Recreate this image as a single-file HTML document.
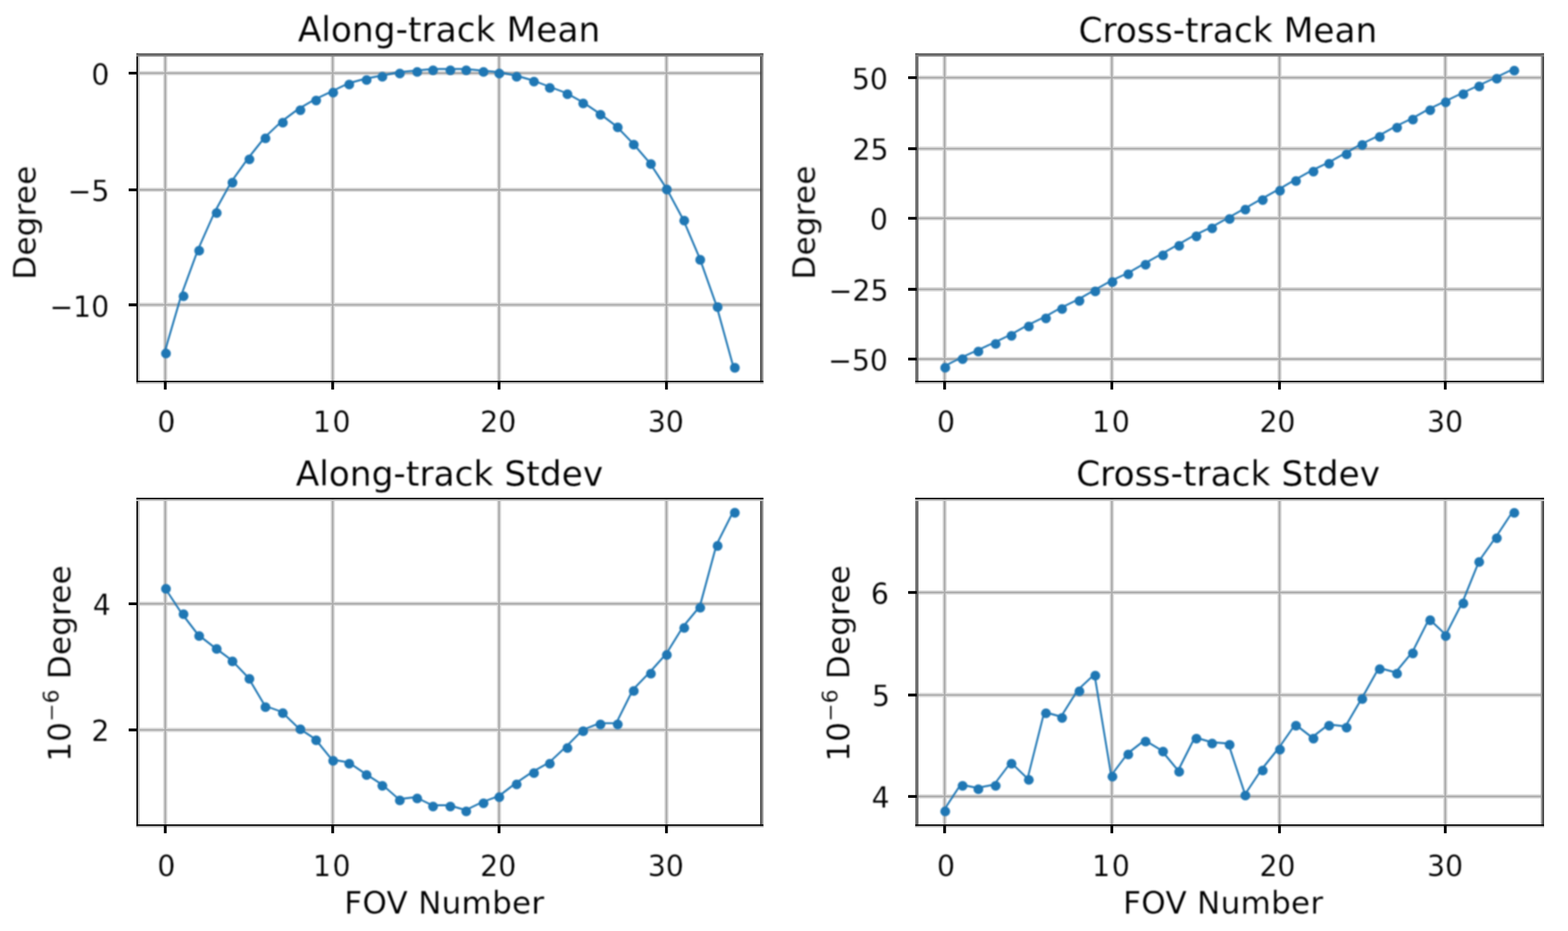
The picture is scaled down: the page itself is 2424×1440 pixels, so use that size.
<!DOCTYPE html>
<html lang="en"><head><meta charset="utf-8"><title>FOV geolocation statistics</title>
<style>html,body{margin:0;padding:0;background:#fff}body{width:2424px;height:1440px;overflow:hidden}svg{display:block}text{font-family:'DejaVu Sans','Liberation Sans',sans-serif;fill:#000;stroke:#fff;stroke-width:0.25px;stroke-linejoin:round}</style>
</head><body>
<svg width="2424" height="1440" viewBox="0 0 2424 1440">
<defs><filter id="soft" color-interpolation-filters="sRGB" x="0" y="0" width="2424" height="1440" filterUnits="userSpaceOnUse"><feGaussianBlur stdDeviation="0.8"/></filter><filter id="softt" color-interpolation-filters="sRGB" x="0" y="0" width="2424" height="1440" filterUnits="userSpaceOnUse"><feGaussianBlur stdDeviation="0.8"/></filter></defs>
<rect width="2424" height="1440" fill="#fff"/>
<g>
<path class="gr" d="M255.5 85V590.4M514.3 85V590.4M771.5 85V590.4M1030.3 85V590.4M212.4 113.2H1177.5M212.4 293.6H1177.5M212.4 471.5H1177.5" fill="none" stroke="#dcdcdc" stroke-width="6.8"/>
<path class="gr" d="M255.5 85V590.4M514.3 85V590.4M771.5 85V590.4M1030.3 85V590.4M212.4 113.2H1177.5M212.4 293.6H1177.5M212.4 471.5H1177.5" fill="none" stroke="#adadad" stroke-width="2.7"/>
<path class="gr" d="M1460.3 85V590.4M1718.8 85V590.4M1978 85V590.4M2234.3 85V590.4M1417.4 120.2H2385.3M1417.4 230H2385.3M1417.4 337.6H2385.3M1417.4 447.5H2385.3M1417.4 555.3H2385.3" fill="none" stroke="#dcdcdc" stroke-width="6.8"/>
<path class="gr" d="M1460.3 85V590.4M1718.8 85V590.4M1978 85V590.4M2234.3 85V590.4M1417.4 120.2H2385.3M1417.4 230H2385.3M1417.4 337.6H2385.3M1417.4 447.5H2385.3M1417.4 555.3H2385.3" fill="none" stroke="#adadad" stroke-width="2.7"/>
<path class="gr" d="M255.5 771.4V1276.6M514.3 771.4V1276.6M771.5 771.4V1276.6M1030.3 771.4V1276.6M212.4 933.8H1177.5M212.4 1129H1177.5" fill="none" stroke="#dcdcdc" stroke-width="6.8"/>
<path class="gr" d="M255.5 771.4V1276.6M514.3 771.4V1276.6M771.5 771.4V1276.6M1030.3 771.4V1276.6M212.4 933.8H1177.5M212.4 1129H1177.5" fill="none" stroke="#adadad" stroke-width="2.7"/>
<path class="gr" d="M1460.3 771.4V1276.6M1718.8 771.4V1276.6M1978 771.4V1276.6M2234.3 771.4V1276.6M1417.4 916.3H2385.3M1417.4 1075H2385.3M1417.4 1231.8H2385.3" fill="none" stroke="#dcdcdc" stroke-width="6.8"/>
<path class="gr" d="M1460.3 771.4V1276.6M1718.8 771.4V1276.6M1978 771.4V1276.6M2234.3 771.4V1276.6M1417.4 916.3H2385.3M1417.4 1075H2385.3M1417.4 1231.8H2385.3" fill="none" stroke="#adadad" stroke-width="2.7"/>
</g>
<g filter="url(#soft)">
<polyline points="254.5,544.75 280.36,456.25 306.21,385.75 332.06,327.5 357.92,280.6 383.77,244.5 409.63,212 435.49,187.75 461.34,168.5 487.19,153.5 513.05,141.25 538.9,128.75 564.76,121.75 590.62,116.75 616.47,111.75 642.33,109.25 668.18,106.75 694.04,106.75 719.89,106.75 745.75,109.25 771.6,111.75 797.46,116.75 823.31,124.25 849.16,134 875.02,143.75 900.88,158 926.73,175.5 952.59,195 978.44,221.75 1004.29,251.75 1030.15,291.1 1056.01,339.25 1081.86,399.9 1107.72,473 1133.57,566.8" fill="none" stroke="#1f77b4" stroke-width="2.9" stroke-linejoin="round"/>
<g fill="#1f77b4"><circle cx="256.6" cy="546.75" r="7.6"/><circle cx="283.75" cy="458.25" r="7.6"/><circle cx="307.9" cy="387.75" r="7.6"/><circle cx="335" cy="329.5" r="7.6"/><circle cx="359.4" cy="282.6" r="7.6"/><circle cx="385.6" cy="246.5" r="7.6"/><circle cx="410.4" cy="214" r="7.6"/><circle cx="437.25" cy="189.75" r="7.6"/><circle cx="464.4" cy="170.5" r="7.6"/><circle cx="488.75" cy="155.5" r="7.6"/><circle cx="515.1" cy="143.25" r="7.6"/><circle cx="539.9" cy="130.75" r="7.6"/><circle cx="566.75" cy="123.75" r="7.6"/><circle cx="591.1" cy="118.75" r="7.6"/><circle cx="618.1" cy="113.75" r="7.6"/><circle cx="645" cy="111.25" r="7.6"/><circle cx="669.5" cy="108.75" r="7.6"/><circle cx="696.25" cy="108.75" r="7.6"/><circle cx="720.75" cy="108.75" r="7.6"/><circle cx="747.5" cy="111.25" r="7.6"/><circle cx="771.9" cy="113.75" r="7.6"/><circle cx="798.75" cy="118.75" r="7.6"/><circle cx="825.5" cy="126.25" r="7.6"/><circle cx="850" cy="136" r="7.6"/><circle cx="877.25" cy="145.75" r="7.6"/><circle cx="901.6" cy="160" r="7.6"/><circle cx="928.3" cy="177.5" r="7.6"/><circle cx="955" cy="197" r="7.6"/><circle cx="979.75" cy="223.75" r="7.6"/><circle cx="1006.25" cy="253.75" r="7.6"/><circle cx="1030.9" cy="293.1" r="7.6"/><circle cx="1057.8" cy="341.25" r="7.6"/><circle cx="1082.5" cy="401.9" r="7.6"/><circle cx="1109.4" cy="475" r="7.6"/><circle cx="1136" cy="568.8" r="7.6"/></g>
<polyline points="1459.2,566.75 1485.06,553.5 1510.92,541.75 1536.79,530 1562.65,517.5 1588.51,503 1614.37,490.5 1640.23,476 1666.1,463.5 1691.96,448.75 1717.82,434.25 1743.68,422.25 1769.54,407.5 1795.41,393 1821.27,378.25 1847.13,363.6 1872.99,351.25 1898.85,336.75 1924.72,322.25 1950.58,307.5 1976.44,293 2002.3,278 2028.16,263.5 2054.03,251.25 2079.89,236.75 2105.75,222.25 2131.61,209.75 2157.47,195.5 2183.34,183 2209.2,168.5 2235.06,156.25 2260.92,143.75 2286.78,131.75 2312.65,119.75 2338.51,107.25" fill="none" stroke="#1f77b4" stroke-width="2.9" stroke-linejoin="round"/>
<g fill="#1f77b4"><circle cx="1461.25" cy="568.75" r="7.6"/><circle cx="1488.1" cy="555.5" r="7.6"/><circle cx="1512.5" cy="543.75" r="7.6"/><circle cx="1539.25" cy="532" r="7.6"/><circle cx="1563.75" cy="519.5" r="7.6"/><circle cx="1590.5" cy="505" r="7.6"/><circle cx="1617" cy="492.5" r="7.6"/><circle cx="1641.9" cy="478" r="7.6"/><circle cx="1668.75" cy="465.5" r="7.6"/><circle cx="1693.25" cy="450.75" r="7.6"/><circle cx="1719.75" cy="436.25" r="7.6"/><circle cx="1744.25" cy="424.25" r="7.6"/><circle cx="1771" cy="409.5" r="7.6"/><circle cx="1798" cy="395" r="7.6"/><circle cx="1822.9" cy="380.25" r="7.6"/><circle cx="1849.6" cy="365.6" r="7.6"/><circle cx="1873.9" cy="353.25" r="7.6"/><circle cx="1900.9" cy="338.75" r="7.6"/><circle cx="1925.25" cy="324.25" r="7.6"/><circle cx="1952.1" cy="309.5" r="7.6"/><circle cx="1978.75" cy="295" r="7.6"/><circle cx="2003.5" cy="280" r="7.6"/><circle cx="2030.5" cy="265.5" r="7.6"/><circle cx="2054.75" cy="253.25" r="7.6"/><circle cx="2081.75" cy="238.75" r="7.6"/><circle cx="2106" cy="224.25" r="7.6"/><circle cx="2133" cy="211.75" r="7.6"/><circle cx="2159.75" cy="197.5" r="7.6"/><circle cx="2184.25" cy="185" r="7.6"/><circle cx="2211" cy="170.5" r="7.6"/><circle cx="2235" cy="158.25" r="7.6"/><circle cx="2262.25" cy="145.75" r="7.6"/><circle cx="2286.75" cy="133.75" r="7.6"/><circle cx="2314" cy="121.75" r="7.6"/><circle cx="2341" cy="109.25" r="7.6"/></g>
<polyline points="254.5,908.75 280.36,948 306.21,981.75 332.06,1001.75 357.92,1021 383.77,1048 409.63,1091.75 435.49,1101 461.34,1126 487.19,1143 513.05,1174.75 538.9,1179.25 564.76,1196.75 590.62,1213.5 616.47,1236 642.33,1233 668.18,1245.5 694.04,1245.5 719.89,1253 745.75,1240.5 771.6,1231 797.46,1211.25 823.31,1193.75 849.16,1179.25 875.02,1155 900.88,1129 926.73,1118.6 952.59,1118.6 978.44,1066.75 1004.29,1040 1030.15,1011 1056.01,969.25 1081.86,938 1107.72,842.4 1133.57,791.1" fill="none" stroke="#1f77b4" stroke-width="2.9" stroke-linejoin="round"/>
<g fill="#1f77b4"><circle cx="256.6" cy="910.75" r="7.6"/><circle cx="283.75" cy="950" r="7.6"/><circle cx="307.9" cy="983.75" r="7.6"/><circle cx="335" cy="1003.75" r="7.6"/><circle cx="359.4" cy="1023" r="7.6"/><circle cx="385.6" cy="1050" r="7.6"/><circle cx="410.4" cy="1093.75" r="7.6"/><circle cx="437.25" cy="1103" r="7.6"/><circle cx="464.4" cy="1128" r="7.6"/><circle cx="488.75" cy="1145" r="7.6"/><circle cx="515.1" cy="1176.75" r="7.6"/><circle cx="539.9" cy="1181.25" r="7.6"/><circle cx="566.75" cy="1198.75" r="7.6"/><circle cx="591.1" cy="1215.5" r="7.6"/><circle cx="618.1" cy="1238" r="7.6"/><circle cx="645" cy="1235" r="7.6"/><circle cx="669.5" cy="1247.5" r="7.6"/><circle cx="696.25" cy="1247.5" r="7.6"/><circle cx="720.75" cy="1255" r="7.6"/><circle cx="747.5" cy="1242.5" r="7.6"/><circle cx="771.9" cy="1233" r="7.6"/><circle cx="798.75" cy="1213.25" r="7.6"/><circle cx="825.5" cy="1195.75" r="7.6"/><circle cx="850" cy="1181.25" r="7.6"/><circle cx="877.25" cy="1157" r="7.6"/><circle cx="901.6" cy="1131" r="7.6"/><circle cx="928.3" cy="1120.6" r="7.6"/><circle cx="955" cy="1120.6" r="7.6"/><circle cx="979.75" cy="1068.75" r="7.6"/><circle cx="1006.25" cy="1042" r="7.6"/><circle cx="1030.9" cy="1013" r="7.6"/><circle cx="1057.8" cy="971.25" r="7.6"/><circle cx="1082.5" cy="940" r="7.6"/><circle cx="1109.4" cy="844.4" r="7.6"/><circle cx="1136" cy="793.1" r="7.6"/></g>
<polyline points="1459.2,1253 1485.06,1213.5 1510.92,1218.75 1536.79,1213.5 1562.65,1179.25 1588.51,1204.25 1614.37,1101.25 1640.23,1108.5 1666.1,1067.25 1691.96,1043 1717.82,1199.25 1743.68,1165 1769.54,1145 1795.41,1160.5 1821.27,1191.75 1847.13,1140.5 1872.99,1148 1898.85,1150 1924.72,1228.5 1950.58,1189.75 1976.44,1157.5 2002.3,1120.5 2028.16,1140.5 2054.03,1120.5 2079.89,1123.5 2105.75,1079.25 2131.61,1033 2157.47,1040 2183.34,1008.6 2209.2,957.4 2235.06,981.75 2260.92,931.4 2286.78,867.25 2312.65,830.5 2338.51,791.25" fill="none" stroke="#1f77b4" stroke-width="2.9" stroke-linejoin="round"/>
<g fill="#1f77b4"><circle cx="1461.25" cy="1255" r="7.6"/><circle cx="1488.1" cy="1215.5" r="7.6"/><circle cx="1512.5" cy="1220.75" r="7.6"/><circle cx="1539.25" cy="1215.5" r="7.6"/><circle cx="1563.75" cy="1181.25" r="7.6"/><circle cx="1590.5" cy="1206.25" r="7.6"/><circle cx="1617" cy="1103.25" r="7.6"/><circle cx="1641.9" cy="1110.5" r="7.6"/><circle cx="1668.75" cy="1069.25" r="7.6"/><circle cx="1693.25" cy="1045" r="7.6"/><circle cx="1719.75" cy="1201.25" r="7.6"/><circle cx="1744.25" cy="1167" r="7.6"/><circle cx="1771" cy="1147" r="7.6"/><circle cx="1798" cy="1162.5" r="7.6"/><circle cx="1822.9" cy="1193.75" r="7.6"/><circle cx="1849.6" cy="1142.5" r="7.6"/><circle cx="1873.9" cy="1150" r="7.6"/><circle cx="1900.9" cy="1152" r="7.6"/><circle cx="1925.25" cy="1230.5" r="7.6"/><circle cx="1952.1" cy="1191.75" r="7.6"/><circle cx="1978.75" cy="1159.5" r="7.6"/><circle cx="2003.5" cy="1122.5" r="7.6"/><circle cx="2030.5" cy="1142.5" r="7.6"/><circle cx="2054.75" cy="1122.5" r="7.6"/><circle cx="2081.75" cy="1125.5" r="7.6"/><circle cx="2106" cy="1081.25" r="7.6"/><circle cx="2133" cy="1035" r="7.6"/><circle cx="2159.75" cy="1042" r="7.6"/><circle cx="2184.25" cy="1010.6" r="7.6"/><circle cx="2211" cy="959.4" r="7.6"/><circle cx="2235" cy="983.75" r="7.6"/><circle cx="2262.25" cy="933.4" r="7.6"/><circle cx="2286.75" cy="869.25" r="7.6"/><circle cx="2314" cy="832.5" r="7.6"/><circle cx="2341" cy="793.25" r="7.6"/></g>
</g>
<g>
<rect x="210.9" y="82.4" width="2.6" height="511.4" fill="#000"/>
<rect x="213.5" y="82.4" width="2.4" height="511.4" fill="#c2c2c2"/>
<rect x="1175.2" y="82.4" width="2.5" height="511.4" fill="#3c3c3c"/>
<rect x="1177.7" y="82.4" width="2.5" height="511.4" fill="#909090"/>
<rect x="210.9" y="82.4" width="969.3" height="2.6" fill="#5e5e5e"/>
<rect x="210.9" y="85" width="969.3" height="2.5" fill="#808080"/>
<rect x="210.9" y="588.9" width="969.3" height="2.5" fill="#000"/>
<rect x="210.9" y="591.4" width="969.3" height="2.4" fill="#cacaca"/>
<path d="M255.5 590.4v12.2M514.3 590.4v12.2M771.5 590.4v12.2M1030.3 590.4v12.2M212.4 113.2h-13.5M212.4 293.6h-13.5M212.4 471.5h-13.5" fill="none" stroke="#000" stroke-width="4.3"/>
<rect x="1414.9" y="82.4" width="5" height="511.4" fill="#6e6e6e"/>
<rect x="2381.9" y="82.4" width="2.4" height="511.4" fill="#a0a0a0"/>
<rect x="2384.3" y="82.4" width="2.6" height="511.4" fill="#3c3c3c"/>
<rect x="1414.9" y="82.4" width="972" height="2.6" fill="#5e5e5e"/>
<rect x="1414.9" y="85" width="972" height="2.5" fill="#808080"/>
<rect x="1414.9" y="588.9" width="972" height="2.5" fill="#000"/>
<rect x="1414.9" y="591.4" width="972" height="2.4" fill="#cacaca"/>
<path d="M1460.3 590.4v12.2M1718.8 590.4v12.2M1978 590.4v12.2M2234.3 590.4v12.2M1417.4 120.2h-13.5M1417.4 230h-13.5M1417.4 337.6h-13.5M1417.4 447.5h-13.5M1417.4 555.3h-13.5" fill="none" stroke="#000" stroke-width="4.3"/>
<rect x="210.9" y="769.9" width="2.6" height="510.1" fill="#000"/>
<rect x="213.5" y="769.9" width="2.4" height="510.1" fill="#c2c2c2"/>
<rect x="1175.2" y="769.9" width="2.5" height="510.1" fill="#3c3c3c"/>
<rect x="1177.7" y="769.9" width="2.5" height="510.1" fill="#909090"/>
<rect x="210.9" y="769.9" width="969.3" height="2.6" fill="#000"/>
<rect x="210.9" y="772.5" width="969.3" height="2.5" fill="#c6c6c6"/>
<rect x="210.9" y="1275.1" width="969.3" height="2.6" fill="#000"/>
<rect x="210.9" y="1277.7" width="969.3" height="2.3" fill="#cacaca"/>
<path d="M255.5 1276.6v12.2M514.3 1276.6v12.2M771.5 1276.6v12.2M1030.3 1276.6v12.2M212.4 933.8h-13.5M212.4 1129h-13.5" fill="none" stroke="#000" stroke-width="4.3"/>
<rect x="1414.9" y="769.9" width="5" height="510.1" fill="#6e6e6e"/>
<rect x="2381.9" y="769.9" width="2.4" height="510.1" fill="#a0a0a0"/>
<rect x="2384.3" y="769.9" width="2.6" height="510.1" fill="#3c3c3c"/>
<rect x="1414.9" y="769.9" width="972" height="2.6" fill="#000"/>
<rect x="1414.9" y="772.5" width="972" height="2.5" fill="#c6c6c6"/>
<rect x="1414.9" y="1275.1" width="972" height="2.6" fill="#000"/>
<rect x="1414.9" y="1277.7" width="972" height="2.3" fill="#cacaca"/>
<path d="M1460.3 1276.6v12.2M1718.8 1276.6v12.2M1978 1276.6v12.2M2234.3 1276.6v12.2M1417.4 916.3h-13.5M1417.4 1075h-13.5M1417.4 1231.8h-13.5" fill="none" stroke="#000" stroke-width="4.3"/>
</g>
<g filter="url(#softt)">
<text x="243.29" y="668" font-size="43.8">0</text>
<text x="483.65" y="668" font-size="43.8" letter-spacing="2.6">10</text>
<text x="742.27" y="668" font-size="43.8">20</text>
<text x="1001.51" y="668" font-size="43.8">30</text>
<text x="141.23" y="130.6" font-size="43.8">0</text>
<text x="104.53" y="311" font-size="43.8">−5</text>
<text x="76.43" y="489.8" font-size="43.8">−10</text>
<text x="460.43" y="64.4" font-size="53.2">Along-track Mean</text>
<text transform="translate(54.9 432.6) rotate(-90)" font-size="48.0" letter-spacing="0.3">Degree</text>
<text x="1448.59" y="668" font-size="43.8">0</text>
<text x="1688.35" y="668" font-size="43.8" letter-spacing="2.6">10</text>
<text x="1946.97" y="668" font-size="43.8">20</text>
<text x="2206.11" y="668" font-size="43.8">30</text>
<text x="1316.91" y="137.6" font-size="43.8">50</text>
<text x="1317.79" y="247.4" font-size="43.8">25</text>
<text x="1344.83" y="355" font-size="43.8">0</text>
<text x="1281.11" y="464.9" font-size="43.8">−25</text>
<text x="1280.23" y="572.7" font-size="43.8">−50</text>
<text x="1667.14" y="64.6" font-size="53.2">Cross-track Mean</text>
<text transform="translate(1259.7 432.4) rotate(-90)" font-size="48.0" letter-spacing="0.3">Degree</text>
<text x="243.29" y="1354.9" font-size="43.8">0</text>
<text x="483.65" y="1354.9" font-size="43.8" letter-spacing="2.6">10</text>
<text x="742.27" y="1354.9" font-size="43.8">20</text>
<text x="1001.51" y="1354.9" font-size="43.8">30</text>
<text x="143.5" y="951.2" font-size="43.8">4</text>
<text x="141.17" y="1146.4" font-size="43.8">2</text>
<text x="457.18" y="750.5" font-size="53.2">Along-track Stdev</text>
<text transform="translate(108.8 1178.2) rotate(-90)" font-size="48.0" letter-spacing="0.3">10<tspan font-size="33.8" dy="-18">−6</tspan><tspan dy="18"> Degree</tspan></text>
<text x="532.16" y="1412.8" font-size="48.0" letter-spacing="0.4">FOV Number</text>
<text x="1448.59" y="1354.9" font-size="43.8">0</text>
<text x="1688.35" y="1354.9" font-size="43.8" letter-spacing="2.6">10</text>
<text x="1946.97" y="1354.9" font-size="43.8">20</text>
<text x="2206.11" y="1354.9" font-size="43.8">30</text>
<text x="1346.32" y="933.7" font-size="43.8">6</text>
<text x="1348.11" y="1092.4" font-size="43.8">5</text>
<text x="1347.6" y="1249.2" font-size="43.8">4</text>
<text x="1663.7" y="750.5" font-size="53.2">Cross-track Stdev</text>
<text transform="translate(1313.2 1178.1) rotate(-90)" font-size="48.0" letter-spacing="0.3">10<tspan font-size="33.8" dy="-18">−6</tspan><tspan dy="18"> Degree</tspan></text>
<text x="1736.36" y="1412.8" font-size="48.0" letter-spacing="0.4">FOV Number</text>
</g>
</svg>
</body></html>
